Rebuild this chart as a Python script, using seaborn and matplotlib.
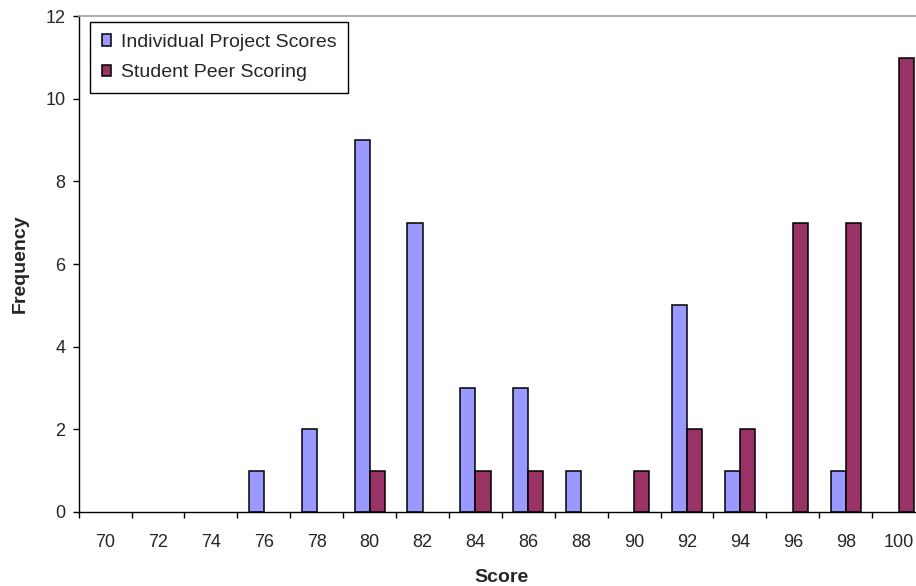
import numpy as np
import pandas as pd
import matplotlib
matplotlib.use("Agg")
import matplotlib.pyplot as plt
import seaborn as sns

scores = [70, 72, 74, 76, 78, 80, 82, 84, 86, 88, 90, 92, 94, 96, 98, 100]
individual = [0, 0, 0, 1, 2, 9, 7, 3, 3, 1, 0, 5, 1, 0, 1, 0]
peer = [0, 0, 0, 0, 0, 1, 0, 1, 1, 0, 1, 2, 2, 7, 7, 11]
series_names = ["Individual Project Scores", "Student Peer Scoring"]
colors = ["#9999FF", "#993366"]

df = pd.DataFrame({
    "Score": [str(s) for s in scores] * 2,
    "Frequency": individual + peer,
    "Series": [series_names[0]] * len(scores) + [series_names[1]] * len(scores),
})

sns.set_style("white")
plt.rcParams["font.family"] = ["Liberation Sans", "DejaVu Sans"]

fig = plt.figure(figsize=(9.16, 5.86), dpi=100)
ax = fig.add_axes([0.0859, 0.1263, 0.924, 0.846])

sns.barplot(
    data=df, x="Score", y="Frequency", hue="Series",
    palette=colors, width=2 / 3.5, edgecolor="black", linewidth=1.1,
    saturation=1, ax=ax,
)

ax.set_xlim(-0.5, len(scores) - 0.5)
ax.set_ylim(0, 12)
ax.set_yticks(range(0, 13, 2))
ax.set_xticks(np.arange(-0.5, len(scores), 1), minor=True)

ax.tick_params(axis="x", which="major", length=0, pad=16, labelsize=13)
ax.tick_params(axis="x", which="minor", length=4, width=1, color="black",
               direction="out", bottom=True)
ax.tick_params(axis="y", which="major", length=4.5, width=1, color="black",
               direction="out", left=True, pad=5, labelsize=13)

for side in ["left", "bottom"]:
    ax.spines[side].set_color("black")
    ax.spines[side].set_linewidth(1)
ax.spines["top"].set_color("#a0a0a0")
ax.spines["top"].set_linewidth(1.2)
ax.spines["right"].set_visible(False)

ax.set_xlabel("Score", fontsize=14, fontweight="bold", labelpad=13)
ax.set_ylabel("Frequency", fontsize=14, fontweight="bold", labelpad=12)

leg = ax.legend(
    loc="upper left", bbox_to_anchor=(0.0134, 0.988), borderaxespad=0,
    fontsize=14, frameon=True, fancybox=False, edgecolor="black",
    framealpha=1, handlelength=0.5, handleheight=0.55, handletextpad=0.5,
    labelspacing=0.7, borderpad=0.6,
)
leg.get_frame().set_linewidth(1)

# hide the outlines of empty bars so they don't sit on the axis
for p in ax.patches:
    if p.get_height() == 0:
        p.set_visible(False)

fig.savefig("out.png", dpi=100)
